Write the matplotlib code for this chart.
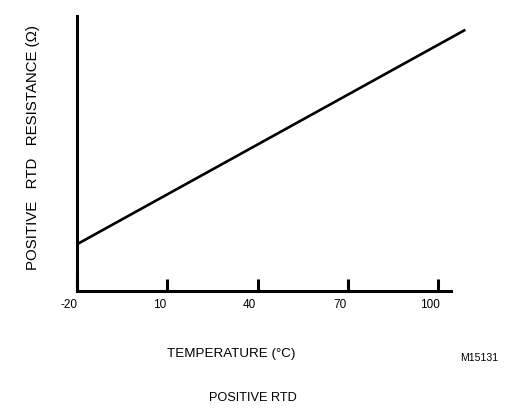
import matplotlib
matplotlib.use("Agg")
import matplotlib.pyplot as plt
import matplotlib.transforms as mtransforms

plt.rcParams["font.family"] = ["Liberation Sans", "DejaVu Sans"]

# data (arbitrary resistance units)
temperature = [-20, 109]
resistance = [17, 95]
tick_values = [-20, 10, 40, 70, 100]
tick_labels = ["-20", "10", "40", "70", "100"]

fig = plt.figure(figsize=(5.07, 4.13), dpi=100)
W, H = 507, 413
ax = fig.add_axes([77 / W, (H - 291) / H, (466 - 77) / W, (291 - 16) / H])

ax.plot(temperature, resistance, color="black", linewidth=1.9,
        solid_capstyle="butt", clip_on=False)

ax.set_xlim(-20, 109.2)
ax.set_ylim(0, 100)

for side in ["top", "right"]:
    ax.spines[side].set_visible(False)
for side in ["left", "bottom"]:
    ax.spines[side].set_linewidth(2.2)
ax.spines["bottom"].set_bounds(-20, 104.3)

ax.set_yticks([])
ax.set_xticks(tick_values)
ax.set_xticklabels(tick_labels, fontsize=8.5)
ax.tick_params(axis="x", direction="in", length=8.5, width=2.2, pad=6)

# labels sit slightly left of their tick marks in the original
offset = mtransforms.ScaledTranslation(-8 / 100, 0, fig.dpi_scale_trans)
for lbl in ax.get_xticklabels():
    lbl.set_transform(lbl.get_transform() + offset)

fig.text(33 / W, 1 - 148 / H, "POSITIVE   RTD   RESISTANCE (\u03a9)",
         rotation=90, ha="center", va="center", fontsize=10.8)
fig.text(231 / W, 1 - 354 / H, "TEMPERATURE (\u00b0C)",
         ha="center", va="center", fontsize=9.6)
fig.text(479 / W, 1 - 358 / H, "M15131", ha="center", va="center", fontsize=7.6)
fig.text(253 / W, 1 - 398 / H, "POSITIVE RTD", ha="center", va="center", fontsize=9.2)

fig.savefig("out.png", dpi=100)
